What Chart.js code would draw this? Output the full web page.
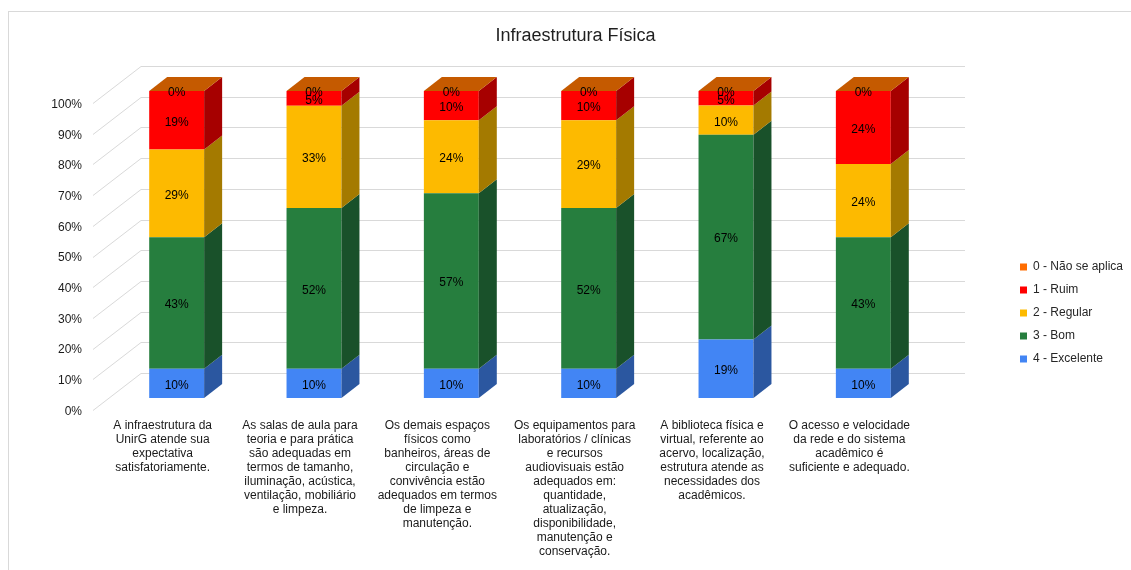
<!DOCTYPE html>
<html><head><meta charset="utf-8">
<script src="https://cdn.jsdelivr.net/npm/chart.js@4.4.1/dist/chart.umd.min.js"></script>
<style>html,body{margin:0;padding:0;background:#fff;} canvas{display:block;}</style>
</head><body>
<canvas id="c" width="1131" height="570"></canvas>
<script>
// ---- data ----
const categories = [
  ["A infraestrutura da", "UnirG atende sua", "expectativa", "satisfatoriamente."],
  ["As salas de aula para", "teoria e para prática", "são adequadas em", "termos de tamanho,", "iluminação, acústica,", "ventilação, mobiliário", "e limpeza."],
  ["Os demais espaços", "físicos como", "banheiros, áreas de", "circulação e", "convivência estão", "adequados em termos", "de limpeza e", "manutenção."],
  ["Os equipamentos para", "laboratórios / clínicas", "e recursos", "audiovisuais estão", "adequados em:", "quantidade,", "atualização,", "disponibilidade,", "manutenção e", "conservação."],
  ["A biblioteca física e", "virtual, referente ao", "acervo, localização,", "estrutura atende as", "necessidades dos", "acadêmicos."],
  ["O acesso e velocidade", "da rede e do sistema", "acadêmico é", "suficiente e adequado."]
];
const excelente   = [9.52, 9.52, 9.52, 9.52, 19.05, 9.52];
const bom         = [42.86, 52.38, 57.14, 52.38, 66.67, 42.86];
const regular     = [28.57, 33.33, 23.81, 28.57, 9.52, 23.81];
const ruim        = [19.05, 4.76, 9.52, 9.52, 4.76, 23.81];
const naoSeAplica = [0, 0, 0, 0, 0, 0];
const seriesNames = ["4 - Excelente", "3 - Bom", "2 - Regular", "1 - Ruim", "0 - Não se aplica"];
const yTickValues = [0, 10, 20, 30, 40, 50, 60, 70, 80, 90, 100];
const titleText = "Infraestrutura Física";

// ---- styles ----
const frontColors = ["#4285F4", "#267E3E", "#FDBA00", "#FF0000", "#FF6D01"];
const sideColors  = ["#2B57A0", "#19512A", "#A47A00", "#A60000", "#A64A00"];
const topColor = "#C55A00";
const DX = 18, DY = 14;

Chart.defaults.font.family = "'Liberation Sans', Arial, sans-serif";
Chart.defaults.font.size = 12;
Chart.defaults.color = "#262626";

const threeD = {
  id: 'threeD',
  beforeDraw(chart) {
    const ctx = chart.ctx;
    ctx.save();
    ctx.fillStyle = '#fff';
    ctx.fillRect(0, 0, chart.width, chart.height);
    ctx.strokeStyle = '#d9d9d9';
    ctx.lineWidth = 1;
    ctx.strokeRect(8.5, 11.5, 1200, 700);
    ctx.restore();
  },
  afterLayout(chart) {
    const lg = chart.legend;
    if (!lg) return;
    const p = lg.options.labels.padding;
    lg.left = 1020 - p;
    lg.top = 261 - p;
    lg.right = lg.left + lg.width;
    lg.bottom = 570;
  },
  beforeDatasetsDraw(chart) {
    const {ctx, chartArea: a, scales: {y}} = chart;
    ctx.save();
    ctx.strokeStyle = '#d9d9d9';
    ctx.lineWidth = 1;
    yTickValues.forEach(v => {
      const py = Math.round(y.getPixelForValue(v));
      ctx.beginPath();
      ctx.moveTo(a.left - 15, py + 12.5);
      ctx.lineTo(a.left + 33, py - 24.5);
      ctx.lineTo(a.right + 33, py - 24.5);
      ctx.stroke();
    });
    ctx.restore();
  },
  afterDatasetsDraw(chart) {
    const ctx = chart.ctx;
    ctx.save();
    const n = chart.data.datasets.length;
    // side faces
    for (let i = 0; i < n; i++) {
      const meta = chart.getDatasetMeta(i);
      meta.data.forEach(el => {
        const {x, y, base, width} = el.getProps(['x', 'y', 'base', 'width'], true);
        const r = x + width / 2;
        if (Math.abs(base - y) < 0.5) return;
        ctx.fillStyle = sideColors[i];
        ctx.beginPath();
        ctx.moveTo(r, y);
        ctx.lineTo(r + DX, y - DY);
        ctx.lineTo(r + DX, base - DY);
        ctx.lineTo(r, base);
        ctx.closePath();
        ctx.fill();
      });
    }
    // top face of the stack
    const topMeta = chart.getDatasetMeta(n - 1);
    topMeta.data.forEach(el => {
      const {x, y, width} = el.getProps(['x', 'y', 'width'], true);
      const l = x - width / 2, r = x + width / 2;
      ctx.fillStyle = topColor;
      ctx.beginPath();
      ctx.moveTo(l, y);
      ctx.lineTo(l + DX, y - DY);
      ctx.lineTo(r + DX, y - DY);
      ctx.lineTo(r, y);
      ctx.closePath();
      ctx.fill();
    });
    // data labels
    ctx.fillStyle = '#000';
    ctx.font = "12px 'Liberation Sans', Arial, sans-serif";
    ctx.textAlign = 'center';
    ctx.textBaseline = 'middle';
    for (let i = 0; i < n; i++) {
      const meta = chart.getDatasetMeta(i);
      const vals = chart.data.datasets[i].data;
      meta.data.forEach((el, j) => {
        const {x, y, base} = el.getProps(['x', 'y', 'base'], true);
        ctx.fillText(Math.round(vals[j]) + '%', x, (y + base) / 2 + 2);
      });
    }
    ctx.restore();
  }
};

const seriesData = [excelente, bom, regular, ruim, naoSeAplica];

new Chart(document.getElementById('c'), {
  type: 'bar',
  data: {
    labels: categories,
    datasets: seriesData.map((d, i) => ({
      label: seriesNames[i],
      data: d,
      backgroundColor: frontColors[i],
      borderColor: frontColors[i],
      borderWidth: 0,
      categoryPercentage: 0.4,
      barPercentage: 1.0
    }))
  },
  options: {
    responsive: false,
    animation: false,
    layout: { padding: { left: 20, right: 0, top: 0, bottom: 0 } },
    plugins: {
      tooltip: { enabled: false },
      title: {
        display: true,
        text: titleText,
        font: { size: 18, weight: 'normal' },
        color: '#1f1f1f',
        padding: { top: 25, bottom: 44.4 }
      },
      legend: {
        position: 'chartArea',
        align: 'start',
        reverse: true,
        labels: {
          boxWidth: 7,
          boxHeight: 7,
          padding: 11,
          font: { size: 12 },
          color: '#262626'
        }
      }
    },
    scales: {
      x: {
        stacked: true,
        grid: { display: false, drawTicks: false },
        border: { display: false },
        ticks: {
          autoSkip: false, maxRotation: 0, minRotation: 0,
          padding: 21, labelOffset: -14,
          font: { size: 12, lineHeight: '14px' },
          color: '#1a1a1a'
        },
        afterFit(s) { s.height = 172; }
      },
      y: {
        stacked: true,
        min: 0, max: 100,
        grid: { display: false, drawTicks: false },
        border: { display: false },
        afterBuildTicks(s) { s.ticks = yTickValues.map(v => ({ value: v })); },
        ticks: {
          padding: 26, labelOffset: 13.5,
          callback: v => v + '%',
          font: { size: 12 },
          color: '#1a1a1a'
        },
        afterFit(s) { s.width = 88; }
      },
      y2: {
        type: 'linear',
        position: 'right',
        grid: { display: false, drawTicks: false },
        border: { display: false },
        ticks: { display: false },
        afterFit(s) { s.width = 199; }
      }
    }
  },
  plugins: [threeD]
});
</script>
</body></html>
